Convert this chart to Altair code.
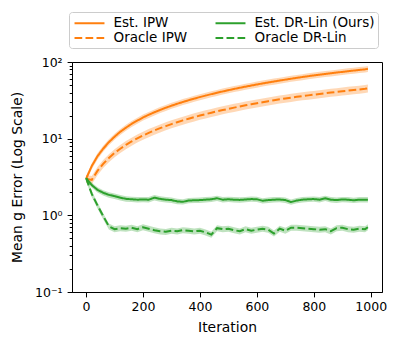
import altair as alt
import pandas as pd

# ---------------- data ----------------
iters = list(range(0, 1000, 20)) + [990]

est_ipw = [3.0, 4.4, 5.9, 7.4, 9.0, 10.6, 12.3, 13.9, 15.6, 17.2,
           18.9, 20.5, 22.1, 23.7, 25.3, 26.9, 28.5, 30.1, 31.7, 33.3,
           34.9, 36.5, 38.1, 39.7, 41.3, 42.9, 44.5, 46.1, 47.7, 49.3,
           50.9, 52.5, 54.1, 55.7, 57.3, 58.9, 60.5, 62.1, 63.7, 65.3,
           66.8, 68.3, 69.8, 71.3, 72.8, 74.3, 75.8, 77.3, 78.8, 80.3,
           81.5]

oracle_ipw = [3.0, 2.9, 3.8, 4.7, 5.6, 6.5, 7.4, 8.3, 9.2, 10.1,
              11.0, 11.9, 12.8, 13.7, 14.6, 15.5, 16.4, 17.3, 18.2, 19.1,
              20.0, 20.9, 21.8, 22.7, 23.6, 24.5, 25.4, 26.3, 27.2, 28.1,
              29.0, 29.9, 30.8, 31.7, 32.6, 33.5, 34.3, 35.1, 35.9, 36.7,
              37.5, 38.3, 39.1, 39.9, 40.7, 41.5, 42.3, 43.1, 43.9, 44.7,
              45.3]

est_dr = [3.05, 2.48, 2.15, 1.97, 1.85, 1.78, 1.70, 1.64, 1.62, 1.60,
          1.61, 1.60, 1.70, 1.64, 1.60, 1.58, 1.52, 1.50, 1.56, 1.57,
          1.58, 1.60, 1.62, 1.67, 1.60, 1.62, 1.60, 1.59, 1.61, 1.63,
          1.62, 1.55, 1.58, 1.60, 1.61, 1.58, 1.49, 1.56, 1.60, 1.62,
          1.63, 1.60, 1.67, 1.60, 1.58, 1.61, 1.60, 1.57, 1.60, 1.60,
          1.60]

oracle_dr = [3.05, 1.90, 1.35, 0.98, 0.72, 0.66, 0.68, 0.67, 0.69, 0.66,
             0.70, 0.67, 0.64, 0.62, 0.61, 0.63, 0.62, 0.64, 0.63, 0.62,
             0.63, 0.60, 0.56, 0.68, 0.66, 0.67, 0.64, 0.62, 0.66, 0.63,
             0.65, 0.67, 0.65, 0.58, 0.67, 0.63, 0.69, 0.69, 0.68, 0.67,
             0.66, 0.65, 0.66, 0.62, 0.68, 0.69, 0.66, 0.65, 0.67, 0.66,
             0.70]

series_names = ["Est. IPW", "Oracle IPW", "Est. DR-Lin (Ours)", "Oracle DR-Lin"]
series_values = [est_ipw, oracle_ipw, est_dr, oracle_dr]
band_rel = [0.09, 0.12, 0.08, 0.09]   # relative half-width of shaded band

x_ticks = [0, 200, 400, 600, 800, 1000]
y_ticks = [0.1, 0.2, 0.3, 0.4, 0.5, 0.6, 0.7, 0.8, 0.9,
           1, 2, 3, 4, 5, 6, 7, 8, 9,
           10, 20, 30, 40, 50, 60, 70, 80, 90, 100]

rows = []
for name, vals, r in zip(series_names, series_values, band_rel):
    for x, v in zip(iters, vals):
        rows.append({"iteration": x, "series": name, "value": v,
                     "lo": v * (1 - r), "hi": v * (1 + r)})
df = pd.DataFrame(rows)

legend_order = ["Est. IPW", "Oracle IPW", "Est. DR-Lin (Ours)", "Oracle DR-Lin"]
color_range = ["#ff7f0e", "#ff7f0e", "#2ca02c", "#2ca02c"]
dash_range = [[1, 0], [7.7, 3.3], [1, 0], [7.7, 3.3]]

FONT = "DejaVu Sans"

xaxis = alt.Axis(values=x_ticks, title="Iteration", grid=False,
                 tickSize=4.9, labelPadding=3.5, format="d",
                 titleY=35, titleBaseline="middle")
xscale = alt.Scale(domain=[-49.5, 1039.5], nice=False, zero=False)
yscale = alt.Scale(type="log", domain=[0.1, 100], nice=False)

is_major = "abs(log(datum.value)/LN10 - round(log(datum.value)/LN10)) < 0.001"
label_expr = ("datum.value == 100 ? '10²' : datum.value == 10 ? '10¹' : "
              "datum.value == 1 ? '10⁰' : datum.value == 0.1 ? '10⁻¹' : ''")

yaxis = alt.Axis(values=y_ticks, labelExpr=label_expr, grid=False,
                 tickSize={"condition": {"test": is_major, "value": 4.9},
                           "value": 2.8},
                 labelPadding=5, orient="left",
                 title="Mean g Error (Log Scale)",
                 titleX=-55, titleY=115, titleAngle=-90,
                 titleAlign="center", titleBaseline="middle")

legend = alt.Legend(orient="none", legendX=-3, legendY=-50,
                    columns=2, title=None,
                    symbolType="M-2.14,0H2.14", symbolSize=196,
                    symbolOffset=9.5, symbolStrokeWidth=2,
                    labelOffset=16, labelFont=FONT,
                    labelFontSize=13.5, labelColor="black",
                    rowPadding=0, columnPadding=23, padding=3,
                    strokeColor="#cccccc", cornerRadius=3,
                    fillColor="white")

color_scale = alt.Scale(domain=legend_order, range=color_range)

bands = alt.Chart(df).mark_area(fillOpacity=0.3, strokeWidth=0).encode(
    x=alt.X("iteration:Q", scale=xscale, axis=xaxis),
    y=alt.Y("lo:Q", scale=yscale, axis=yaxis),
    y2="hi:Q",
    color=alt.Color("series:N", scale=color_scale, legend=legend),
    detail="series:N",
)

lines = alt.Chart(df).mark_line(strokeWidth=2).encode(
    x=alt.X("iteration:Q", scale=xscale, axis=xaxis),
    y=alt.Y("value:Q", scale=yscale, axis=yaxis),
    color=alt.Color("series:N", scale=color_scale, legend=legend),
    strokeDash=alt.StrokeDash("series:N",
                              scale=alt.Scale(domain=legend_order, range=dash_range),
                              legend=legend),
    detail="series:N",
)

chart = alt.layer(bands, lines).properties(
    width=310, height=230,
    padding={"left": 64, "top": 54, "right": 8, "bottom": 48},
    autosize=alt.AutoSizeParams(type="none"),
).configure_axis(
    labelFont=FONT, labelFontSize=12.5, labelColor="black",
    titleFont=FONT, titleFontSize=13.9, titleFontWeight="normal", titleColor="black",
    tickColor="black", domainColor="black", tickWidth=1, domainWidth=1,
).configure_view(stroke="black", strokeWidth=1)

chart.save("out.html", embed_options={"renderer": "svg", "actions": False})
